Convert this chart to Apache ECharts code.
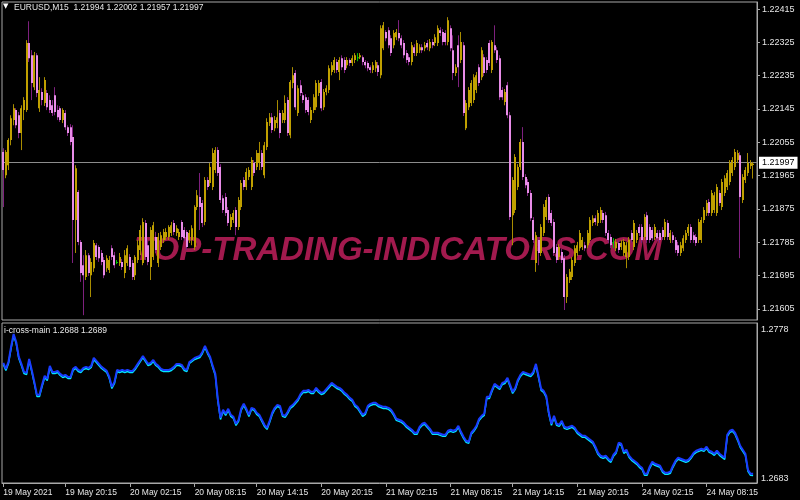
<!DOCTYPE html>
<html><head><meta charset="utf-8">
<script src="https://cdn.jsdelivr.net/npm/echarts@6/dist/echarts.min.js"></script>
<style>html,body{margin:0;padding:0;background:#000}#c{width:800px;height:500px}</style>
</head><body><div id="c"></div>
<script>
// ---- data (EURUSD M15 candles) ----
const opens=[
1.22029,1.21966,1.21993,1.22061,1.22115,1.22142,1.22128,1.22080,1.22142,1.22142,
1.22323,1.22290,1.22204,1.22290,1.22147,1.22191,1.22161,1.22188,1.22169,1.22155,
1.22182,1.22142,1.22147,1.22115,1.22134,1.22096,1.22096,1.22069,1.21845,1.21921,
1.21786,1.21723,1.21691,1.21750,1.21696,1.21715,1.21777,1.21772,1.21756,1.21737,
1.21715,1.21710,1.21769,1.21750,1.21732,1.21729,1.21732,1.21702,1.21729,1.21745,
1.21729,1.21696,1.21737,1.21764,1.21729,1.21837,1.21777,1.21718,1.21745,1.21799,
1.21729,1.21772,1.21791,1.21799,1.21799,1.21810,1.21837,1.21810,1.21799,1.21840,
1.21818,1.21813,1.21791,1.21791,1.21772,1.21880,1.21907,1.21891,1.21840,1.21953,
1.21945,1.21934,1.21980,1.22034,1.21988,1.21904,1.21907,1.21872,1.21826,1.21845,
1.21872,1.21826,1.21880,1.21953,1.21934,1.21961,1.21934,1.21999,1.21988,1.21999,
1.22026,1.21966,1.22042,1.22107,1.22123,1.22093,1.22107,1.22134,1.22115,1.22115,
1.22169,1.22074,1.22215,1.22242,1.22134,1.22209,1.22182,1.22177,1.22169,1.22115,
1.22142,1.22150,1.22188,1.22218,1.22150,1.22191,1.22196,1.22245,1.22250,1.22272,
1.22245,1.22282,1.22277,1.22263,1.22277,1.22269,1.22277,1.22285,1.22285,1.22285,
1.22272,1.22269,1.22258,1.22250,1.22255,1.22263,1.22236,1.22309,1.22353,1.22358,
1.22336,1.22317,1.22339,1.22350,1.22336,1.22323,1.22296,1.22285,1.22272,1.22312,
1.22296,1.22304,1.22312,1.22309,1.22323,1.22309,1.22326,1.22323,1.22323,1.22358,
1.22353,1.22350,1.22326,1.22363,1.22304,1.22242,1.22317,1.22277,1.22317,1.22093,
1.22150,1.22161,1.22169,1.22196,1.22258,1.22231,1.22285,1.22277,1.22323,1.22250,
1.22317,1.22304,1.22282,1.22196,1.22164,1.22209,1.22128,1.21858,1.21872,1.21934,
1.21988,1.22056,1.21961,1.21948,1.21918,1.21845,1.21729,1.21791,1.21756,1.21810,
1.21853,1.21907,1.21864,1.21840,1.21772,1.21745,1.21759,1.21742,1.21637,1.21683,
1.21691,1.21729,1.21756,1.21769,1.21772,1.21777,1.21777,1.21791,1.21837,1.21850,
1.21837,1.21845,1.21864,1.21858,1.21810,1.21799,1.21785,1.21769,1.21783,1.21772,
1.21756,1.21745,1.21745,1.21810,1.21772,1.21791,1.21826,1.21826,1.21799,1.21858,
1.21826,1.21818,1.21799,1.21810,1.21810,1.21818,1.21799,1.21837,1.21791,1.21804,
1.21791,1.21777,1.21756,1.21769,1.21791,1.21810,1.21826,1.21804,1.21799,1.21791,
1.21791,1.21845,1.21864,1.21894,1.21864,1.21872,1.21864,1.21918,1.21880,1.21918,
1.21934,1.21948,1.21972,1.21988,1.22007,1.22020,1.21899,1.21953,1.21972,1.21991,
1.21994];
const closes=[
1.21980,1.22029,1.22061,1.22120,1.22147,1.22101,1.22080,1.22147,1.22169,1.22323,
1.22282,1.22215,1.22290,1.22188,1.22196,1.22169,1.22223,1.22150,1.22142,1.22134,
1.22137,1.22123,1.22115,1.22142,1.22096,1.22080,1.22056,1.21845,1.21985,1.21786,
1.21702,1.21696,1.21750,1.21702,1.21732,1.21783,1.21745,1.21742,1.21732,1.21696,
1.21742,1.21737,1.21745,1.21723,1.21732,1.21745,1.21718,1.21750,1.21769,1.21718,
1.21691,1.21745,1.21777,1.21818,1.21840,1.21745,1.21732,1.21818,1.21831,1.21764,
1.21799,1.21804,1.21813,1.21813,1.21826,1.21831,1.21813,1.21823,1.21813,1.21799,
1.21796,1.21772,1.21810,1.21823,1.21880,1.21912,1.21880,1.21837,1.21953,1.21934,
1.21988,1.22026,1.22034,1.21972,1.21899,1.21872,1.21864,1.21837,1.21853,1.21864,
1.21826,1.21899,1.21945,1.21934,1.21975,1.21980,1.22007,1.21972,1.22026,1.22026,
1.21988,1.22047,1.22110,1.22123,1.22088,1.22115,1.22123,1.22080,1.22134,1.22161,
1.22080,1.22218,1.22236,1.22150,1.22201,1.22188,1.22169,1.22142,1.22137,1.22142,
1.22177,1.22215,1.22215,1.22147,1.22191,1.22201,1.22255,1.22263,1.22277,1.22250,
1.22277,1.22258,1.22250,1.22277,1.22269,1.22282,1.22290,1.22285,1.22290,1.22272,
1.22263,1.22255,1.22250,1.22263,1.22272,1.22245,1.22363,1.22371,1.22336,1.22317,
1.22296,1.22350,1.22353,1.22336,1.22317,1.22290,1.22277,1.22272,1.22317,1.22296,
1.22323,1.22312,1.22304,1.22317,1.22312,1.22326,1.22317,1.22339,1.22363,1.22350,
1.22326,1.22326,1.22385,1.22309,1.22242,1.22258,1.22258,1.22326,1.22134,1.22161,
1.22196,1.22215,1.22231,1.22236,1.22215,1.22304,1.22242,1.22250,1.22269,1.22326,
1.22304,1.22277,1.22177,1.22177,1.22191,1.22128,1.21853,1.21953,1.22015,1.21988,
1.22056,1.21961,1.21939,1.21918,1.21850,1.21791,1.21804,1.21756,1.21826,1.21880,
1.21899,1.21845,1.21837,1.21756,1.21737,1.21772,1.21737,1.21637,1.21691,1.21705,
1.21737,1.21769,1.21777,1.21810,1.21791,1.21769,1.21810,1.21845,1.21850,1.21840,
1.21864,1.21872,1.21845,1.21810,1.21791,1.21777,1.21785,1.21786,1.21764,1.21783,
1.21786,1.21777,1.21791,1.21791,1.21837,1.21810,1.21810,1.21791,1.21853,1.21791,
1.21791,1.21796,1.21826,1.21796,1.21791,1.21799,1.21840,1.21799,1.21810,1.21791,
1.21764,1.21756,1.21777,1.21796,1.21810,1.21826,1.21791,1.21791,1.21783,1.21840,
1.21845,1.21872,1.21891,1.21864,1.21918,1.21912,1.21934,1.21891,1.21948,1.21958,
1.21972,1.21999,1.22007,1.22029,1.22026,1.21907,1.21961,1.21980,1.21999,1.21999,
1.21997];
const lows=[
1.21880,1.21958,1.21980,1.22047,1.22101,1.22093,1.22066,1.22034,1.22115,1.22137,
1.22272,1.22169,1.22196,1.22177,1.22137,1.22155,1.22153,1.22142,1.22134,1.22126,
1.22128,1.22115,1.22110,1.22107,1.22088,1.22072,1.22047,1.21729,1.21756,1.21777,
1.21678,1.21588,1.21683,1.21694,1.21637,1.21705,1.21737,1.21732,1.21723,1.21688,
1.21705,1.21702,1.21737,1.21715,1.21726,1.21721,1.21710,1.21688,1.21721,1.21710,
1.21683,1.21683,1.21729,1.21750,1.21723,1.21737,1.21723,1.21683,1.21737,1.21756,
1.21718,1.21764,1.21783,1.21791,1.21791,1.21802,1.21804,1.21802,1.21791,1.21791,
1.21788,1.21764,1.21783,1.21777,1.21764,1.21872,1.21818,1.21826,1.21831,1.21926,
1.21937,1.21926,1.21972,1.21964,1.21891,1.21864,1.21856,1.21829,1.21818,1.21837,
1.21804,1.21818,1.21872,1.21926,1.21926,1.21953,1.21926,1.21964,1.21980,1.21980,
1.21980,1.21958,1.22034,1.22099,1.22080,1.22085,1.22093,1.22066,1.22107,1.22107,
1.22072,1.22066,1.22201,1.22142,1.22126,1.22180,1.22161,1.22134,1.22128,1.22107,
1.22134,1.22142,1.22180,1.22139,1.22142,1.22182,1.22188,1.22236,1.22242,1.22242,
1.22223,1.22250,1.22242,1.22255,1.22261,1.22261,1.22269,1.22274,1.22280,1.22263,
1.22255,1.22247,1.22242,1.22242,1.22245,1.22234,1.22228,1.22304,1.22328,1.22309,
1.22288,1.22309,1.22331,1.22328,1.22309,1.22282,1.22269,1.22263,1.22263,1.22288,
1.22288,1.22296,1.22296,1.22301,1.22304,1.22301,1.22309,1.22315,1.22315,1.22342,
1.22317,1.22317,1.22317,1.22301,1.22223,1.22234,1.22204,1.22269,1.22126,1.22088,
1.22142,1.22153,1.22161,1.22188,1.22207,1.22223,1.22234,1.22242,1.22261,1.22242,
1.22296,1.22269,1.22169,1.22169,1.22155,1.22120,1.21845,1.21777,1.21864,1.21926,
1.21980,1.21953,1.21931,1.21910,1.21842,1.21783,1.21705,1.21723,1.21748,1.21802,
1.21845,1.21837,1.21829,1.21748,1.21729,1.21737,1.21729,1.21602,1.21621,1.21675,
1.21683,1.21721,1.21748,1.21761,1.21764,1.21761,1.21769,1.21783,1.21829,1.21831,
1.21829,1.21837,1.21837,1.21802,1.21783,1.21769,1.21769,1.21761,1.21756,1.21764,
1.21748,1.21715,1.21737,1.21783,1.21764,1.21783,1.21802,1.21783,1.21791,1.21783,
1.21783,1.21788,1.21791,1.21788,1.21783,1.21791,1.21791,1.21791,1.21783,1.21783,
1.21756,1.21748,1.21748,1.21761,1.21783,1.21802,1.21783,1.21783,1.21775,1.21783,
1.21783,1.21837,1.21856,1.21856,1.21856,1.21864,1.21856,1.21883,1.21872,1.21910,
1.21926,1.21939,1.21964,1.21980,1.21999,1.21742,1.21891,1.21945,1.21964,1.21983,
1.21957];
const highs=[
1.22039,1.22034,1.22066,1.22128,1.22158,1.22147,1.22137,1.22155,1.22177,1.22331,
1.22382,1.22304,1.22299,1.22296,1.22231,1.22201,1.22231,1.22196,1.22182,1.22169,
1.22204,1.22155,1.22153,1.22147,1.22142,1.22101,1.22104,1.22101,1.21993,1.21926,
1.21791,1.21750,1.21764,1.21756,1.21742,1.21791,1.21783,1.21777,1.21764,1.21745,
1.21750,1.21748,1.21777,1.21759,1.21737,1.21756,1.21740,1.21764,1.21777,1.21753,
1.21737,1.21750,1.21791,1.21831,1.21850,1.21845,1.21791,1.21826,1.21840,1.21813,
1.21810,1.21813,1.21821,1.21823,1.21831,1.21840,1.21845,1.21831,1.21821,1.21845,
1.21826,1.21818,1.21818,1.21831,1.21885,1.21926,1.21972,1.21899,1.21961,1.21961,
1.21999,1.22039,1.22042,1.22042,1.21996,1.21912,1.21918,1.21880,1.21861,1.21872,
1.21880,1.21907,1.21953,1.21961,1.21985,1.21988,1.22015,1.22007,1.22034,1.22056,
1.22034,1.22056,1.22120,1.22134,1.22134,1.22126,1.22169,1.22142,1.22142,1.22182,
1.22177,1.22223,1.22258,1.22250,1.22209,1.22223,1.22191,1.22185,1.22177,1.22150,
1.22185,1.22223,1.22223,1.22226,1.22199,1.22209,1.22263,1.22272,1.22285,1.22280,
1.22285,1.22290,1.22285,1.22285,1.22282,1.22290,1.22296,1.22296,1.22296,1.22290,
1.22277,1.22274,1.22263,1.22272,1.22277,1.22272,1.22371,1.22380,1.22358,1.22366,
1.22344,1.22358,1.22361,1.22385,1.22344,1.22331,1.22304,1.22293,1.22326,1.22320,
1.22331,1.22320,1.22320,1.22326,1.22331,1.22334,1.22334,1.22347,1.22371,1.22366,
1.22361,1.22358,1.22393,1.22371,1.22344,1.22266,1.22344,1.22353,1.22326,1.22169,
1.22204,1.22223,1.22239,1.22245,1.22266,1.22312,1.22293,1.22285,1.22331,1.22331,
1.22371,1.22312,1.22290,1.22204,1.22199,1.22218,1.22137,1.21961,1.22023,1.21996,
1.22064,1.22096,1.21969,1.21956,1.21926,1.21853,1.21813,1.21799,1.21834,1.21888,
1.21907,1.21915,1.21872,1.21848,1.21780,1.21780,1.21767,1.21750,1.21699,1.21713,
1.21745,1.21777,1.21786,1.21818,1.21799,1.21786,1.21818,1.21853,1.21858,1.21858,
1.21872,1.21880,1.21872,1.21867,1.21818,1.21807,1.21796,1.21794,1.21791,1.21791,
1.21794,1.21786,1.21799,1.21818,1.21845,1.21818,1.21834,1.21834,1.21861,1.21867,
1.21834,1.21826,1.21834,1.21818,1.21818,1.21826,1.21848,1.21845,1.21818,1.21813,
1.21799,1.21786,1.21786,1.21804,1.21818,1.21834,1.21834,1.21813,1.21807,1.21848,
1.21853,1.21880,1.21899,1.21902,1.21926,1.21921,1.21942,1.21926,1.21956,1.21966,
1.21980,1.22007,1.22015,1.22037,1.22034,1.22029,1.21969,1.21988,1.22026,1.22007,
1.22002];
// i-cross-main indicator line, one value per bar
const indicator=[
1.27552,1.27516,1.27558,1.27648,1.27726,1.27678,1.27588,1.27546,1.27498,1.27492,
1.27576,1.27510,1.27438,1.27360,1.27360,1.27420,1.27474,1.27456,1.27534,1.27498,
1.27498,1.27504,1.27486,1.27474,1.27480,1.27468,1.27468,1.27516,1.27528,1.27510,
1.27504,1.27522,1.27528,1.27522,1.27534,1.27582,1.27564,1.27546,1.27528,1.27516,
1.27504,1.27468,1.27408,1.27438,1.27510,1.27504,1.27510,1.27504,1.27510,1.27504,
1.27504,1.27522,1.27546,1.27570,1.27594,1.27570,1.27546,1.27552,1.27570,1.27546,
1.27534,1.27516,1.27510,1.27510,1.27510,1.27516,1.27528,1.27546,1.27546,1.27540,
1.27516,1.27510,1.27558,1.27570,1.27582,1.27588,1.27594,1.27618,1.27654,1.27618,
1.27588,1.27534,1.27486,1.27330,1.27222,1.27270,1.27246,1.27276,1.27240,1.27228,
1.27186,1.27210,1.27276,1.27306,1.27276,1.27240,1.27282,1.27276,1.27252,1.27240,
1.27210,1.27180,1.27162,1.27204,1.27252,1.27282,1.27300,1.27294,1.27240,1.27234,
1.27258,1.27288,1.27300,1.27318,1.27336,1.27366,1.27384,1.27384,1.27390,1.27378,
1.27378,1.27402,1.27384,1.27372,1.27378,1.27396,1.27414,1.27432,1.27420,1.27408,
1.27402,1.27390,1.27372,1.27360,1.27342,1.27330,1.27300,1.27288,1.27264,1.27240,
1.27252,1.27294,1.27306,1.27312,1.27312,1.27300,1.27294,1.27288,1.27288,1.27282,
1.27270,1.27246,1.27216,1.27210,1.27204,1.27192,1.27174,1.27162,1.27150,1.27132,
1.27132,1.27168,1.27186,1.27192,1.27174,1.27156,1.27132,1.27132,1.27132,1.27126,
1.27120,1.27120,1.27144,1.27150,1.27144,1.27150,1.27174,1.27138,1.27108,1.27084,
1.27078,1.27132,1.27150,1.27174,1.27216,1.27234,1.27246,1.27348,1.27348,1.27390,
1.27426,1.27414,1.27402,1.27432,1.27438,1.27462,1.27420,1.27378,1.27402,1.27450,
1.27480,1.27498,1.27492,1.27486,1.27480,1.27498,1.27546,1.27474,1.27396,1.27384,
1.27354,1.27252,1.27186,1.27234,1.27186,1.27180,1.27204,1.27168,1.27162,1.27168,
1.27174,1.27162,1.27138,1.27126,1.27114,1.27114,1.27102,1.27090,1.27078,1.27048,
1.27012,1.26994,1.26988,1.26994,1.26976,1.26964,1.27000,1.27018,1.27072,1.27066,
1.27018,1.27030,1.26994,1.26976,1.26964,1.26952,1.26934,1.26922,1.26886,1.26886,
1.26928,1.26958,1.26946,1.26940,1.26934,1.26904,1.26892,1.26892,1.26898,1.26934,
1.26964,1.26982,1.26976,1.26970,1.26964,1.26970,1.26988,1.27012,1.27024,1.27030,
1.27036,1.27030,1.27048,1.27024,1.27018,1.27006,1.27024,1.27006,1.26994,1.26982,
1.27120,1.27144,1.27150,1.27132,1.27096,1.27054,1.27030,1.27006,1.26910,1.26886,
1.26885];
const priceTicks=[1.21605,1.21695,1.21785,1.21875,1.21965,1.22055,1.22145,1.22235,1.22325,1.22415];
const indicatorTicks=[1.2683,1.2778];
const timeTickIndex=[0,24,49,74,98,123,148,173,197,222,247,272];
const timeTickLabels=['19 May 2021','19 May 20:15','20 May 02:15','20 May 08:15','20 May 14:15','20 May 20:15','21 May 02:15','21 May 08:15','21 May 14:15','21 May 20:15','24 May 02:15','24 May 08:15'];
const symbolName='EURUSD,M15';
const indicatorTitle='i-cross-main 1.2688 1.2689';
const watermarkText='TOP-TRADING-INDICATORS.COM';

// ---- build ----
const n=opens.length, last=n-1;
const categories=[]; for(let i=0;i<=n;i++) categories.push(String(i));
const candleData=opens.map((o,i)=>[o,closes[i],lows[i],highs[i]]);
const bodyData=opens.map((o,i)=>[i,o,closes[i]]);
const f5=v=>v.toFixed(5);
const FONT='"Liberation Sans", Arial, sans-serif';
const TXT='#e6e6e6', FRAME='#a8a8a8';
const isTick=(idx)=>timeTickIndex.indexOf(idx)>=0;

const chart=echarts.init(document.getElementById('c'),null,{renderer:'canvas'});
chart.setOption({
  backgroundColor:'#000',
  animation:false,
  title:[
    {text:'\u25BC',left:3,top:3,padding:0,textStyle:{color:'#fff',fontSize:7,fontWeight:'normal',fontFamily:'DejaVu Sans'}},
    {text:symbolName+'  '+[opens[last],highs[last],lows[last],closes[last]].map(f5).join(' '),left:14,top:3,padding:0,
     textStyle:{color:TXT,fontSize:8.5,fontWeight:'normal',fontFamily:FONT}},
    {text:indicatorTitle,left:4,top:326,padding:0,textStyle:{color:TXT,fontSize:8.5,fontWeight:'normal',fontFamily:FONT}}
  ],
  graphic:[{type:'text',left:134,top:234,z:0,silent:true,
    style:{text:watermarkText,fill:'#a21a4e',font:'italic bold 33px "Liberation Sans", Arial, sans-serif'}}],
  grid:[
    {left:2,right:43,top:2,bottom:180,show:true,borderColor:FRAME,borderWidth:1,backgroundColor:'transparent'},
    {left:2,right:43,top:323,bottom:17,show:true,borderColor:FRAME,borderWidth:1,backgroundColor:'transparent'},
    {left:2,right:43,top:324.6,bottom:15.4,show:false}
  ],
  xAxis:[
    {type:'category',gridIndex:0,data:categories,boundaryGap:true,axisLine:{show:false},axisTick:{show:false},axisLabel:{show:false},splitLine:{show:false}},
    {type:'category',gridIndex:1,data:categories,boundaryGap:true,
     axisLine:{show:true,lineStyle:{color:FRAME}},
     axisTick:{show:true,alignWithLabel:true,length:4,interval:(i)=>isTick(i),lineStyle:{color:FRAME}},
     axisLabel:{show:true,interval:(i)=>isTick(i),align:'left',margin:5,color:TXT,fontSize:8.5,fontFamily:FONT,
       formatter:(v,i)=>{const k=timeTickIndex.indexOf(i);return k>=0?timeTickLabels[k]:'';}},
     splitLine:{show:false}},
    {type:'category',gridIndex:2,data:categories,boundaryGap:true,show:false}
  ],
  yAxis:[
    {type:'value',gridIndex:0,position:'right',min:1.21575,max:1.22434,scale:true,splitLine:{show:false},
     axisLine:{show:true,lineStyle:{color:FRAME}},
     axisTick:{show:true,length:3,customValues:priceTicks,lineStyle:{color:FRAME}},
     axisLabel:{show:true,customValues:priceTicks,margin:5,color:TXT,fontSize:9,fontFamily:FONT,formatter:(v)=>v.toFixed(5)}},
    {type:'value',gridIndex:1,position:'right',min:1.2683,max:1.27792,scale:true,splitLine:{show:false},
     axisLine:{show:true,lineStyle:{color:FRAME}},
     axisTick:{show:false},
     axisLabel:{show:true,customValues:indicatorTicks,margin:4,
       formatter:(v)=>v>1.273?'{t|'+v.toFixed(4)+'}':'{b|'+v.toFixed(4)+'}',
       rich:{t:{color:TXT,fontSize:9,fontFamily:FONT,padding:[10,0,0,0]},b:{color:TXT,fontSize:9,fontFamily:FONT,padding:[0,0,8,0]}}}},
    {type:'value',gridIndex:2,min:1.2683,max:1.27792,scale:true,show:false,splitLine:{show:false}}
  ],
  series:[
    {type:'candlestick',xAxisIndex:0,yAxisIndex:0,data:candleData,barWidth:1,z:3,
     itemStyle:{color:'#c0a000',color0:'#7e207e',borderColor:'#a88c00',borderColor0:'#7e207e',borderColorDoji:'#00c000',borderWidth:1},
     markLine:{silent:true,symbol:'none',z:2,
       lineStyle:{color:'#8c8c8c',type:'solid',width:1},
       label:{show:true,position:'end',distance:2,formatter:()=>f5(closes[last]),backgroundColor:'#fff',color:'#000',fontSize:9,fontFamily:FONT,padding:[2,3,1,3]},
       data:[{yAxis:closes[last]}]}},
    {type:'custom',xAxisIndex:0,yAxisIndex:0,data:bodyData,z:4,clip:true,encode:{x:0,y:[1,2]},
     renderItem:(params,api)=>{
       const i=api.value(0),o=api.value(1),c=api.value(2);
       const p1=api.coord([i,o]),p2=api.coord([i,c]);
       const x=Math.round(p1[0])-1;
       const y=Math.min(p1[1],p2[1]);
       const h=Math.max(1,Math.abs(p1[1]-p2[1]));
       const fill=c>o?'#c0a000':(c<o?'#e88ce8':'#00d000');
       return {type:'rect',shape:{x:x,y:y,width:2,height:h},style:{fill:fill}};
     }},
    {type:'line',xAxisIndex:2,yAxisIndex:2,data:indicator,showSymbol:false,z:2,
     lineStyle:{color:'#00e8ff',width:1.5}},
    {type:'line',xAxisIndex:1,yAxisIndex:1,data:indicator,showSymbol:false,z:3,
     lineStyle:{color:'#1a3cff',width:2}}
  ]
});
</script></body></html>
